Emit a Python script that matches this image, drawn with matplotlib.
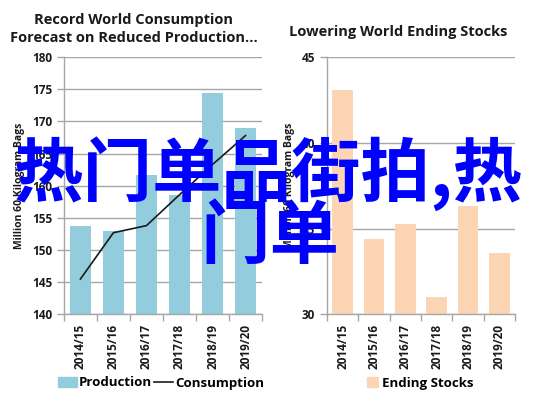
import numpy as np
import matplotlib
matplotlib.use('Agg')
from matplotlib import pyplot as plt
from matplotlib.patches import Patch
from matplotlib.lines import Line2D

years = ['2014/15', '2015/16', '2016/17', '2017/18', '2018/19', '2019/20']
production = [153.8, 152.9, 161.6, 158.5, 174.4, 169.0]
consumption = [145.5, 152.7, 153.8, 158.6, 163.3, 167.8]
ending_stocks = [43.1, 34.4, 35.25, 31.0, 36.3, 33.6]

plt.rcParams['font.family'] = ['Open Sans', 'DejaVu Sans']
plt.rcParams['font.weight'] = 'bold'

W, H = 537, 399
fig = plt.figure(figsize=(5.37, 3.99), dpi=100)
ax1 = fig.add_axes([0.119, 0.212, 0.369, 0.645])
ax2 = fig.add_axes([0.609, 0.212, 0.350, 0.645])

grid_col = '#a6a6a6'
text_col = '#1a1a1a'
x = np.arange(len(years))


def style(ax, ylim, yticks):
    ax.set_xlim(-0.5, len(years) - 0.5)
    ax.set_ylim(*ylim)
    ax.set_yticks(yticks)
    ax.set_xticks(x)
    ax.set_xticklabels(years, rotation=90, fontsize=8.5, fontweight='bold', color=text_col)
    ax.set_xticks(np.arange(-0.5, len(years)), minor=True)
    ax.tick_params(axis='x', which='major', length=0, pad=7)
    ax.tick_params(axis='x', which='minor', length=5, color=grid_col, width=1)
    ax.tick_params(axis='y', length=5, color=grid_col, width=1, labelsize=8.5,
                   labelcolor=text_col)
    for lab in ax.get_yticklabels():
        lab.set_fontweight('bold')
    ax.yaxis.grid(True, color=grid_col, lw=1)
    ax.set_axisbelow(True)
    for s in ['top', 'right']:
        ax.spines[s].set_visible(False)
    for s in ['left', 'bottom']:
        ax.spines[s].set_color(grid_col)
        ax.spines[s].set_linewidth(1)
    ax.set_ylabel('Million 60 Kilogram Bags', fontsize=7.5, fontweight='bold', color=text_col,
                  labelpad=5)


style(ax1, (140, 180), [140, 145, 150, 155, 160, 165, 170, 175, 180])
ax1.bar(x, [p - 140 for p in production], bottom=140, width=0.66, color='#93cddd')
ax1.plot(x, consumption, color='#1a1a1a', lw=1.2)

style(ax2, (30, 45), [30, 35, 40, 45])
ax2.bar(x, [s - 30 for s in ending_stocks], bottom=30, width=0.66, color='#fcd5b5')

fig.text(134 / W, 1 - 29 / H, 'Record World Consumption\nForecast on Reduced Production...',
         fontsize=10.5, fontweight='bold', color=text_col, ha='center', va='center',
         linespacing=1.45)
fig.text(398 / W, 1 - 32 / H, 'Lowering World Ending Stocks', fontsize=10.5,
         fontweight='bold', color=text_col, ha='center', va='center')

fig.legend(handles=[Patch(color='#93cddd', label='Production'),
                    Line2D([], [], color='#1a1a1a', lw=1.2, label='Consumption')],
           loc='center', bbox_to_anchor=(161 / W, 1 - 383 / H), ncol=2, frameon=False,
           fontsize=9.5, handlelength=1.4, columnspacing=0.2, handletextpad=0.15,
           borderpad=0)
fig.legend(handles=[Patch(color='#fcd5b5', label='Ending Stocks')],
           loc='center', bbox_to_anchor=(420 / W, 1 - 383 / H), frameon=False,
           fontsize=9.5, handlelength=0.8, handletextpad=0.3, borderpad=0)

cjk = ['Noto Sans CJK SC', 'DejaVu Sans']
fig.text(0.5, 1 - 174 / H, '热门单品街拍,热', family=cjk, fontsize=50, fontweight='bold',
         color='#0000ff', ha='center', va='center')
fig.text(0.503, 1 - 238 / H, '门单', family=cjk, fontsize=50, fontweight='bold',
         color='#0000ff', ha='center', va='center')

fig.savefig('out.png', dpi=100)
